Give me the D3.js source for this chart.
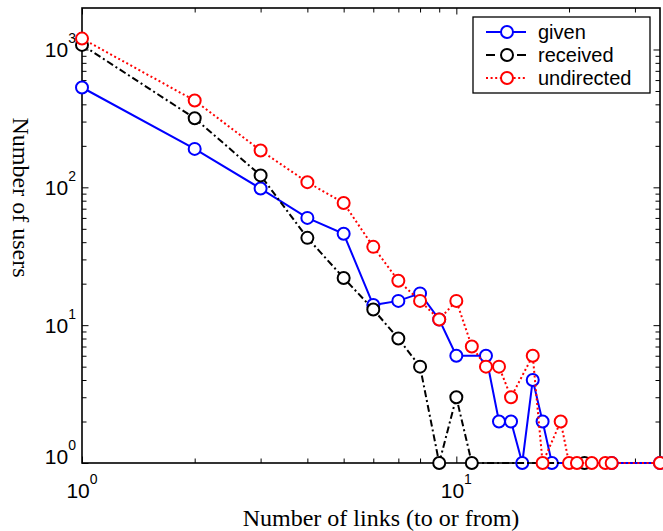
<!DOCTYPE html>
<html>
<head>
<meta charset="utf-8">
<script src="https://cdn.jsdelivr.net/npm/d3@7"></script>
<style>
  html, body { margin: 0; padding: 0; background: #fff; }
  svg { display: block; }
</style>
</head>
<body>
<svg id="chart" width="663" height="531"></svg>
<script>
// ---- data ----
const givenX = [1, 2, 3, 4, 5, 6, 7, 8, 9, 10, 12, 13, 14, 15, 16, 17, 18, 26, 35];
const givenY = [530, 190, 98, 60, 46, 14, 15, 17, 11, 6, 6, 2, 2, 1, 4, 2, 1, 1, 1];

const receivedX = [1, 2, 3, 4, 5, 6, 7, 8, 9, 10, 11, 22];
const receivedY = [1080, 317, 122, 43, 22, 13, 8, 5, 1, 3, 1, 1];

const undirectedX = [1, 2, 3, 4, 5, 6, 7, 8, 9, 10, 11, 12, 13, 14, 16, 17, 19, 20, 21, 23, 25, 26, 35];
const undirectedY = [1200, 426, 185, 109, 77, 37, 21, 15, 11, 15, 7, 5, 5, 3, 6, 1, 2, 1, 1, 1, 1, 1, 1];

const seriesNames = ["given", "received", "undirected"];
const xMajorTicks = [1, 10];
const xMinorTicks = [2, 3, 4, 5, 6, 7, 8, 9, 20, 30];
const yMajorTicks = [1, 10, 100, 1000];
const yMinorTicks = [2, 3, 4, 5, 6, 7, 8, 9, 20, 30, 40, 50, 60, 70, 80, 90,
                     200, 300, 400, 500, 600, 700, 800, 900];
const xTitle = "Number of links (to or from)";
const yTitle = "Number of users";

// ---- layout ----
const L = 82, R = 660, T = 8, B = 463;
const svg = d3.select("#chart");

const x = d3.scaleLog().domain([1, 35]).range([L, R]);
const y = d3.scaleLog().domain([1, 2000]).range([B, T]);

const styles = [
  { color: "#0000ff", dash: null },
  { color: "#000000", dash: "7,3,2,3" },
  { color: "#ff0000", dash: "2,2.6" }
];
const series = [
  { name: seriesNames[0], xs: givenX, ys: givenY },
  { name: seriesNames[1], xs: receivedX, ys: receivedY },
  { name: seriesNames[2], xs: undirectedX, ys: undirectedY }
];

// ---- ticks (inward, all four sides) ----
function tickAxis(gen, transform) {
  const g = svg.append("g").attr("transform", transform).call(gen);
  g.select(".domain").remove();
  g.selectAll(".tick line").attr("stroke", "#000").attr("stroke-width", 1);
  g.selectAll(".tick text").remove();
  return g;
}
const majLen = 6.5, minLen = 4.5;
tickAxis(d3.axisBottom(x).tickValues(xMajorTicks).tickSize(-majLen).tickFormat(""), `translate(0,${B})`);
tickAxis(d3.axisBottom(x).tickValues(xMinorTicks).tickSize(-minLen).tickFormat(""), `translate(0,${B})`);
tickAxis(d3.axisTop(x).tickValues(xMajorTicks).tickSize(-majLen).tickFormat(""), `translate(0,${T})`);
tickAxis(d3.axisTop(x).tickValues(xMinorTicks).tickSize(-minLen).tickFormat(""), `translate(0,${T})`);
tickAxis(d3.axisLeft(y).tickValues(yMajorTicks).tickSize(-majLen).tickFormat(""), `translate(${L},0)`);
tickAxis(d3.axisLeft(y).tickValues(yMinorTicks).tickSize(-minLen).tickFormat(""), `translate(${L},0)`);
tickAxis(d3.axisRight(y).tickValues(yMajorTicks).tickSize(-majLen).tickFormat(""), `translate(${R},0)`);
tickAxis(d3.axisRight(y).tickValues(yMinorTicks).tickSize(-minLen).tickFormat(""), `translate(${R},0)`);

// frame
svg.append("rect")
  .attr("x", L).attr("y", T).attr("width", R - L).attr("height", B - T)
  .attr("fill", "none").attr("stroke", "#000").attr("stroke-width", 1.6);

// ---- tick labels ----
const labelFont = "'Liberation Sans', Arial, Helvetica, sans-serif";
function powLabel(sel, v) {
  const e = Math.round(Math.log10(v));
  sel.append("tspan").text("10");
  sel.append("tspan").attr("dy", -14).attr("font-size", 14).text(String(e));
}
xMajorTicks.forEach(v => {
  svg.append("text")
    .attr("x", x(v)).attr("y", 498)
    .attr("text-anchor", "middle")
    .attr("font-family", labelFont).attr("font-size", 21)
    .call(powLabel, v);
});
yMajorTicks.forEach(v => {
  svg.append("text")
    .attr("x", 76).attr("y", y(v) + (v === 1 ? 1 : 8))
    .attr("text-anchor", "end")
    .attr("font-family", labelFont).attr("font-size", 21)
    .call(powLabel, v);
});

// ---- axis titles ----
const titleFont = "'Liberation Serif', 'Times New Roman', Times, serif";
svg.append("text")
  .attr("x", 381).attr("y", 526)
  .attr("text-anchor", "middle")
  .attr("font-family", titleFont).attr("font-size", 24)
  .text(xTitle);
svg.append("text")
  .attr("transform", "translate(13,197.5) rotate(90)")
  .attr("text-anchor", "middle")
  .attr("font-family", titleFont).attr("font-size", 24)
  .text(yTitle);

// ---- series ----
const line = d3.line().x(d => x(d[0])).y(d => y(d[1]));
series.forEach((s, i) => {
  const pts = s.xs.map((xv, j) => [xv, s.ys[j]]);
  const st = styles[i];
  const g = svg.append("g");
  g.append("path")
    .attr("d", line(pts))
    .attr("fill", "none")
    .attr("stroke", st.color)
    .attr("stroke-width", 2)
    .attr("stroke-dasharray", st.dash);
  g.selectAll("circle").data(pts).join("circle")
    .attr("cx", d => x(d[0])).attr("cy", d => y(d[1]))
    .attr("r", 6)
    .attr("fill", "#fff")
    .attr("stroke", st.color)
    .attr("stroke-width", 2);
});

// ---- legend ----
const lg = svg.append("g");
lg.append("rect")
  .attr("x", 473).attr("y", 17).attr("width", 177).attr("height", 76)
  .attr("fill", "#fff").attr("stroke", "#000").attr("stroke-width", 1.3);
series.forEach((s, i) => {
  const cy = 32 + i * 23;
  const st = styles[i];
  lg.append("line")
    .attr("x1", 486).attr("x2", 526).attr("y1", cy).attr("y2", cy)
    .attr("stroke", st.color).attr("stroke-width", 2)
    .attr("stroke-dasharray", i === 1 ? "9,22,9" : st.dash);
  lg.append("circle")
    .attr("cx", 507).attr("cy", cy).attr("r", 6)
    .attr("fill", "#fff").attr("stroke", st.color).attr("stroke-width", 2);
  lg.append("text")
    .attr("x", 538).attr("y", cy + 7)
    .attr("font-family", labelFont).attr("font-size", 20)
    .text(s.name);
});
</script>
</body>
</html>
